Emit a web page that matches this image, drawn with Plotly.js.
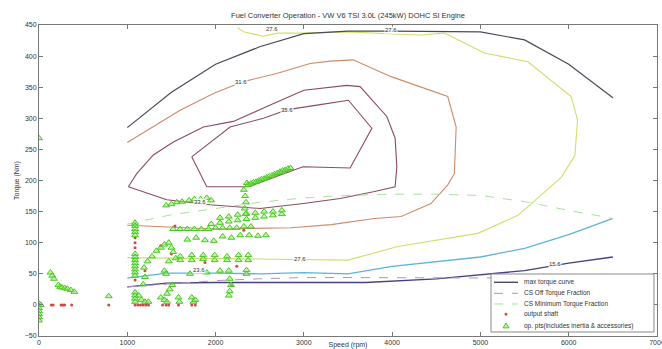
<!DOCTYPE html>
<html><head><meta charset="utf-8">
<script src="https://cdn.plot.ly/plotly-3.0.1.min.js"></script>
<style>html,body{margin:0;padding:0;background:#fff}#c{width:662px;height:349px}</style>
</head><body><div id="c"></div>
<script>
// ---------- data ----------
var curveSpeed = [1000,1500,2000,2500,3000,3500,4000,4500,5000,5500,6000,6500];
var maxTorque = [285,342,387,415,436,440,440,440,439,426,387,333];
var csMinTorque = [130,145,155,165,172,176,178,178,176,166,152,139];
var csOffTorque = [29,34,39,42,44,44,44,44,44,43,39,33];

var c156Speed = [1000,1450,2000,2500,3000,3300,3700,4500,5000,5500,6000,6500];
var c156Torque = [29,35,36,36,36,37,36,42,48,55,67,77];
var c236Speed = [1000,1450,2000,2500,3000,3500,4000,4500,5000,5500,6000,6500];
var c236Torque = [43,51,51,50,52,50,62,70,77,91,113,139];
var c276Speed = [2250,2315,2540,2700,3000,3500,3950,4328,4592,5045,5537,6028,6100,6070,5915,5424,4970,4064,3500,3000,2000,1000];
var c276Torque = [446,439,432,437,437,439,436,434,437,405,391,335,297,240,205,144,115,94,72,73,75,76];
var c316Speed = [1000,1295,1598,1975,2315,2693,3071,3300,3558,3988,4630,4725,4705,4630,4440,4102,3800,3310,2850,2000,1000];
var c316Torque = [261,286,313,340,359,372,388,392,394,367,335,286,211,193,163,142,139,129,124,122,128];
var c336Speed = [1012,1107,1295,1522,1862,2201,2600,3000,3486,3637,3940,4034,4053,4034,3788,3411,2995,2504,1937,1447,1012];
var c336Torque = [190,211,241,262,286,295,320,345,353,351,303,268,222,190,182,171,163,155,161,169,190];
var c356Speed = [1730,2164,2542,2820,3184,3505,3770,3524,2990,2372,1900,1730];
var c356Torque = [238,286,300,314,322,329,284,220,222,190,190,238];

var labelText = ["27.6","27.6","31.6","35.6","33.6","27.6","23.6","15.6"];
var labelSpeed = [2640,3990,2290,2810,1820,2960,1810,5840];
var labelTorque = [443,442,359,314,165,74,56,66];

var opSpeed = [0,0,0,0,0,0,0,20,130,150,170,220,240,260,290,320,360,400,790,
 1088,1088,1088,1088,1088,1088,1088,1088,1088,1088,1088,1088,1088,1088,1088,1088,1088,1130,1160,1200,1240,
 1180,1200,1190,1230,1280,1330,1380,1420,1470,1500,1520,1550,1470,1420,1440,1380,1420,1450,1450,1480,1510,1580,1590,1730,1750,1770,
 1600,1730,1860,1990,2130,2260,2370,1600,1730,1860,1990,2130,2260,2370,
 1710,1900,2050,2350,2350,
 2150,2160,2175,2160,2150,
 1680,1780,1880,1980,2080,2180,2280,2380,2480,2570,
 1520,1600,1680,1760,1840,1920,2000,2080,2160,2240,2320,2400,
 1950,2050,2150,2250,2350,2450,2550,2650,2750,2050,2150,2250,2350,2450,2550,2650,2750,
 1440,1500,1560,1620,1700,1760,1830,1900,1950,
 2320,2335,2345,2330,2340,2355,
 2370,2400,2430,2460,2490,2520,2550,2580,2610,2640,2670,2700,2730,2760,2790,2820,2850];
var opTorque = [268,2,-5,-10,-15,-20,-25,0,52,47,42,32,29,28,27,26,24,21,14,
 132,127,122,117,112,82,77,72,67,62,57,52,47,20,15,10,5,15,8,5,5,
 33,45,60,70,78,87,92,97,100,92,85,75,70,55,50,12,8,5,18,25,32,12,5,12,5,8,
 78,80,80,80,78,80,80,72,72,74,72,72,72,72,
 50,52,55,50,56,
 55,42,32,22,15,
 105,108,104,103,110,108,112,112,111,112,
 122,122,122,122,122,122,124,124,124,124,126,126,
 130,132,134,136,138,140,142,144,146,140,142,145,147,148,150,150,152,
 160,162,165,166,168,170,170,172,168,
 185,175,165,155,146,196,
 193,195,197,198,200,202,203,205,207,208,210,212,214,216,217,219,220];

var shaftSpeed = [0,140,160,250,270,290,370,790,1088,1088,1088,1088,1088,1120,1150,1180,1210,1240,1400,1440,1470,1580,1730,1770,1540,1380,1510,2180,1200,1500,1880,2240,2320];
var shaftTorque = [0,0,0,0,0,0,0,0,108,100,92,40,0,0,0,0,0,0,0,0,0,0,0,0,127,95,35,32,55,82,68,62,120];

var legendNames = ["max torque curve","CS Off Torque Fraction","CS Minimum Torque Fraction","output shaft","op. pts(includes inertia & accessories)"];

// ---------- colours ----------
var colMax = '#4a4a58', colOff = '#b58fc8', colMin = '#a9dfa0';
var col156 = '#45407f', col236 = '#5fb3d9', col276 = '#c9e26a', col316 = '#cf8a68', col336 = '#8a4c5e', col356 = '#8a4c5e';
var triFill = 'rgba(150,235,110,0.55)', triLine = '#45c91f', dotCol = '#d04848';

function line(x, y, color, dash, w) {
  return {x:x, y:y, type:'scatter', mode:'lines', hoverinfo:'skip', showlegend:false,
    line:{color:color, width:w||1.1, dash:dash||'solid'}};
}
var traces = [
  line(c156Speed, c156Torque, col156, 'solid', 1.3),
  line(c236Speed, c236Torque, col236, 'solid', 1.3),
  line(c276Speed, c276Torque, col276, 'solid', 1.1),
  line(c316Speed, c316Torque, col316, 'solid', 1.1),
  line(c336Speed, c336Torque, col336, 'solid', 1.1),
  line(c356Speed, c356Torque, col356, 'solid', 1.1),
  line(curveSpeed, maxTorque, colMax, 'solid', 1.2),
  line(curveSpeed, csOffTorque, colOff, 'dash', 1),
  line(curveSpeed, csMinTorque, colMin, 'dash', 1),
  {x:shaftSpeed, y:shaftTorque, type:'scatter', mode:'markers', showlegend:false, hoverinfo:'skip',
    marker:{symbol:'circle', size:3, color:dotCol}},
  {x:opSpeed, y:opTorque, type:'scatter', mode:'markers', showlegend:false, hoverinfo:'skip',
    marker:{symbol:'triangle-up', size:6, color:triFill, line:{color:triLine, width:1}}}
];

// ---------- manual legend (layout positions in paper units) ----------
var lgX0 = 0.7314, lgX1 = 0.9951, lgY0 = 0.0129, lgY1 = 0.1994;
var rowY = [0.1727, 0.1373, 0.1029, 0.0698, 0.0331];
var sampleX0 = 0.7362, sampleX1 = 0.7751, sampleXc = 0.7557, textX = 0.781;
var hw = 0.00485, hh = 0.0087, dr = 0.0024, drY = 0.0048;

var shapes = [
  {type:'rect', xref:'paper', yref:'paper', x0:lgX0, x1:lgX1, y0:lgY0, y1:lgY1, line:{color:'#8a8a8a', width:1}, fillcolor:'#ffffff', layer:'above'},
  {type:'line', xref:'paper', yref:'paper', x0:sampleX0, x1:sampleX1, y0:rowY[0], y1:rowY[0], line:{color:colMax, width:1.4}},
  {type:'line', xref:'paper', yref:'paper', x0:sampleX0, x1:sampleX1, y0:rowY[1], y1:rowY[1], line:{color:colOff, width:1, dash:'dash'}},
  {type:'line', xref:'paper', yref:'paper', x0:sampleX0, x1:sampleX1, y0:rowY[2], y1:rowY[2], line:{color:colMin, width:1, dash:'dash'}},
  {type:'circle', xref:'paper', yref:'paper', x0:sampleXc-dr, x1:sampleXc+dr, y0:rowY[3]-drY, y1:rowY[3]+drY, line:{width:0}, fillcolor:dotCol},
  {type:'path', xref:'paper', yref:'paper',
    path:'M '+(sampleXc-hw)+','+(rowY[4]-hh*0.8)+' L '+(sampleXc+hw)+','+(rowY[4]-hh*0.8)+' L '+sampleXc+','+(rowY[4]+hh)+' Z',
    line:{color:triLine, width:1}, fillcolor:triFill}
];
var font = 'Liberation Sans, Arial, sans-serif';
var annotations = [];
for (var i = 0; i < legendNames.length; i++) {
  annotations.push({xref:'paper', yref:'paper', x:textX, y:rowY[i], xanchor:'left', yanchor:'middle', showarrow:false,
    text:legendNames[i], font:{family:font, size:6.5, color:'#333'}});
}
for (var j = 0; j < labelText.length; j++) {
  annotations.push({xref:'x', yref:'y', x:labelSpeed[j], y:labelTorque[j], showarrow:false, text:labelText[j],
    font:{family:font, size:6, color:'#333'}, bgcolor:'rgba(255,255,255,0.85)', borderpad:0});
}

var axisCommon = {showgrid:false, zeroline:false, showline:true, linecolor:'#777', linewidth:1,
  ticks:'inside', ticklen:4, tickcolor:'#777', mirror:'allticks', ticklabeloverflow:'allow',
  tickfont:{family:font, size:7, color:'#333'}};

var layout = {
  width:662, height:349, paper_bgcolor:'#fff', plot_bgcolor:'#fff',
  margin:{l:39, r:5, t:25, b:13},
  showlegend:false,
  title:{text:'Fuel Converter Operation - VW V6 TSI 3.0L (245kW) DOHC SI Engine', font:{family:font, size:7.5, color:'#333'},
    xref:'paper', x:0.5, xanchor:'center', yref:'container', y:0.955, yanchor:'middle'},
  xaxis:Object.assign({}, axisCommon, {range:[0,7000], dtick:1000, tick0:0,
    title:{text:'Speed (rpm)', font:{family:font, size:7, color:'#333'}, standoff:9}}),
  yaxis:Object.assign({}, axisCommon, {range:[-50,450], dtick:50, tick0:0,
    title:{text:'Torque (Nm)', font:{family:font, size:7, color:'#333'}, standoff:4}}),
  shapes:shapes, annotations:annotations
};
Plotly.newPlot('c', traces, layout, {displayModeBar:false, staticPlot:true});
</script></body></html>
